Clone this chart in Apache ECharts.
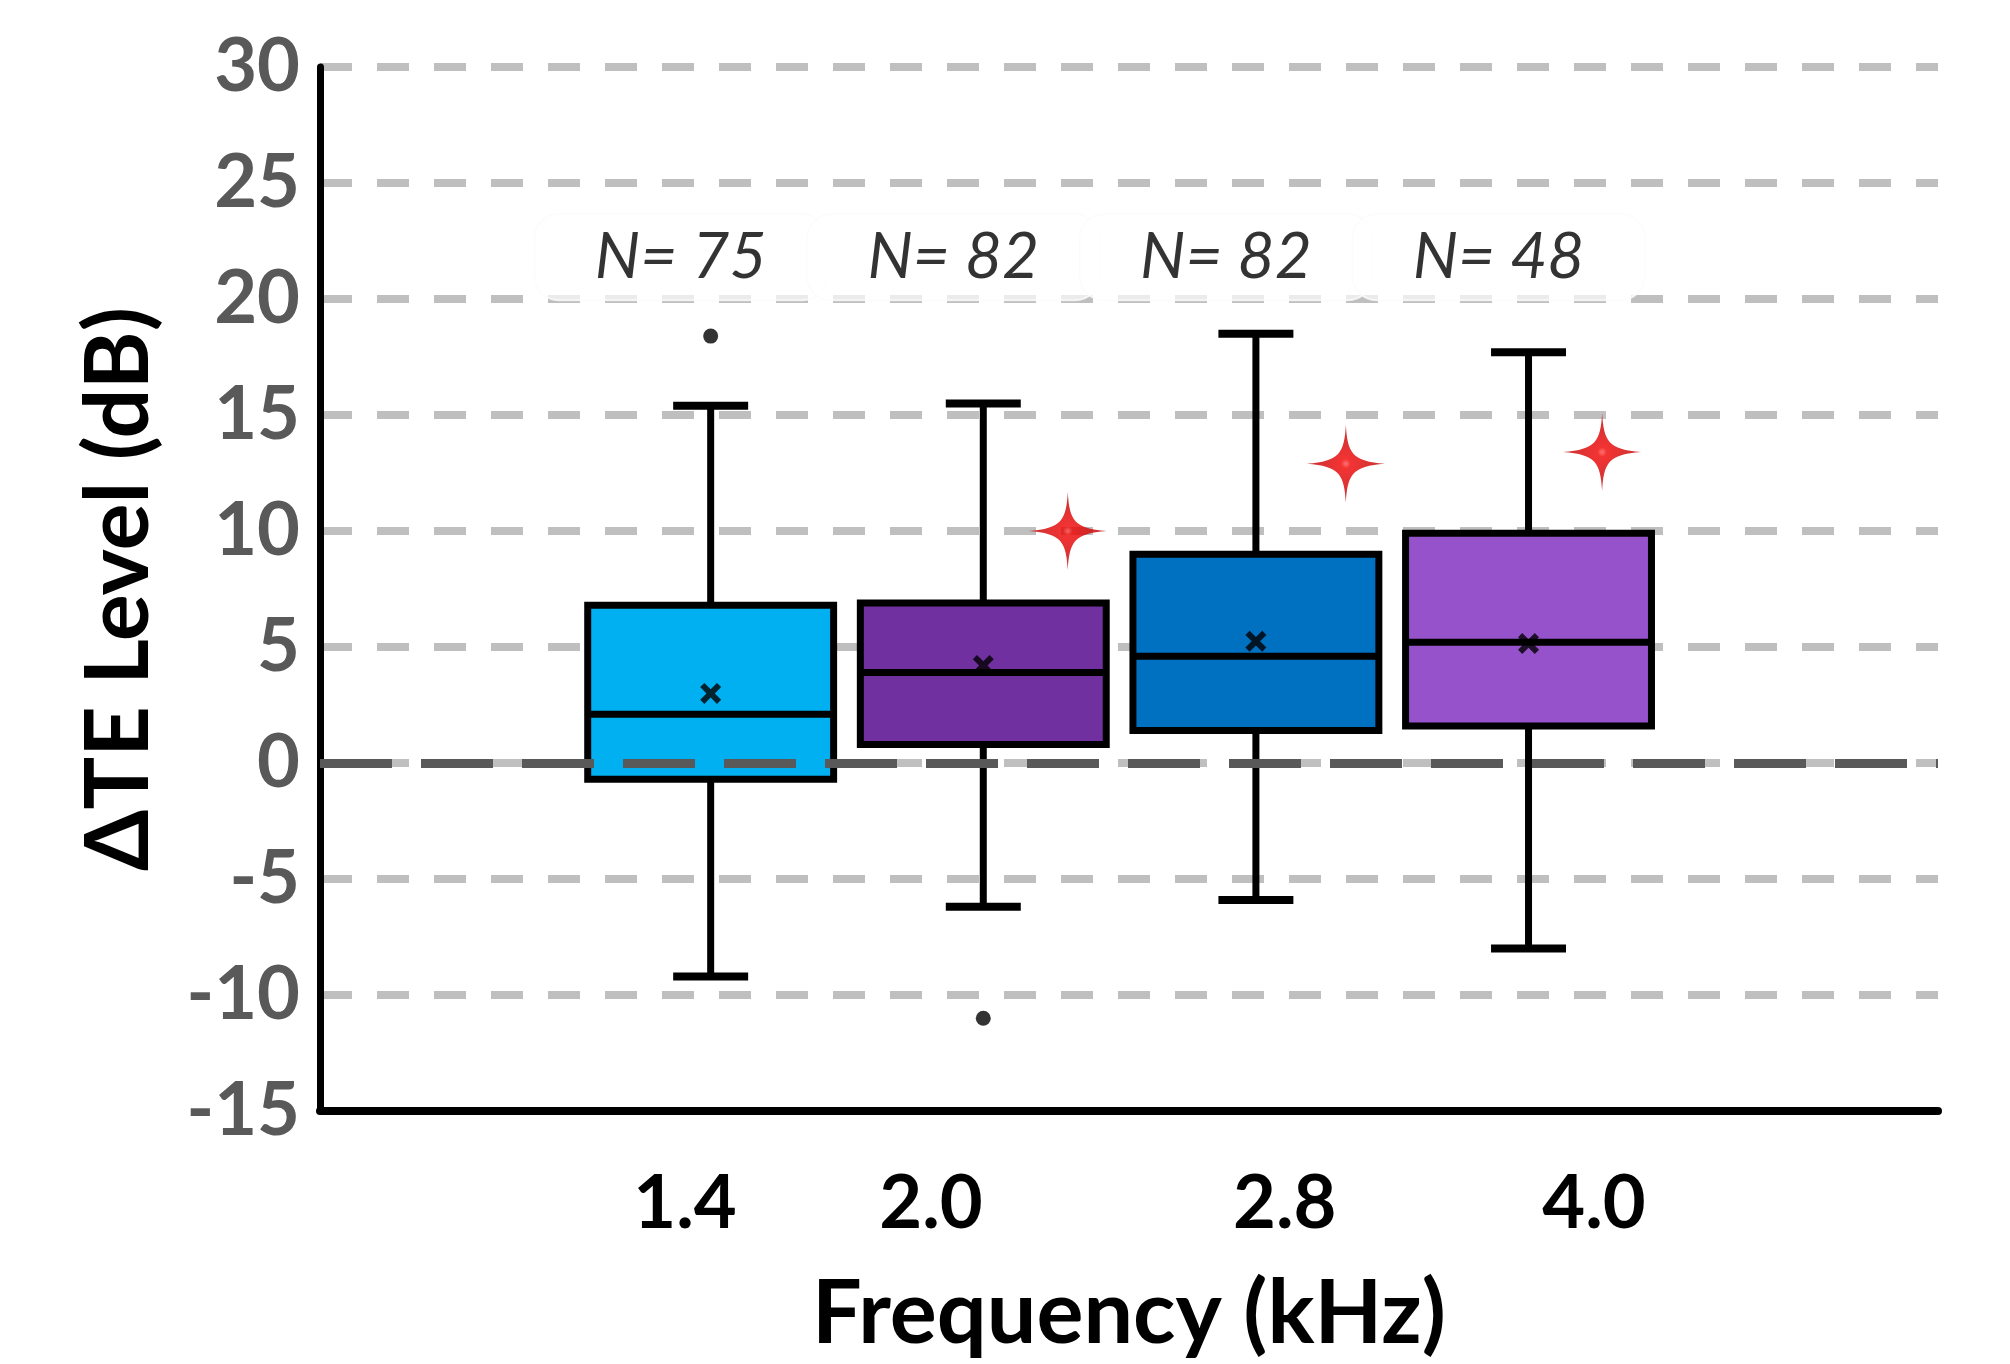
<!DOCTYPE html>
<html>
<head>
<meta charset="utf-8">
<script src="https://cdn.jsdelivr.net/npm/echarts@6/dist/echarts.min.js"></script>
<style>
  html, body { margin: 0; padding: 0; background: #fff; }
  #chart { width: 2010px; height: 1364px; }
</style>
</head>
<body>
<div id="chart"></div>
<script>
// frequencies (kHz), one box each, drawn at index 1..4
const freqs = ['1.4', '2.0', '2.8', '4.0']
const boxIndex = [1, 2, 3, 4]
// box stats: [min, q1, median, q3, max]
const boxStats = [
  [-9.2, -0.7, 2.1, 6.8, 15.4],
  [-6.2, 0.8, 3.9, 6.9, 15.5],
  [-5.9, 1.4, 4.6, 9.0, 18.5],
  [-8.0, 1.6, 5.2, 9.9, 17.7]
]
const means = [3.0, 4.2, 5.25, 5.15]
const nCounts = [75, 82, 82, 48]
// outliers [index, value]
const outliers = [[1, 18.4], [2, -11.0]]
// red stars [x, value]
const stars = [[2.31, 10.0], [3.33, 12.9], [4.27, 13.4]]
const yTicks = [-15, -10, -5, 0, 5, 10, 15, 20, 25, 30]

const boxColors = ['#00b0f0', '#7030a0', '#0070c0', '#9652ca']
// where the original put its tick labels (not under the boxes)
const freqLabelPos = [0.906, 1.808, 3.106, 4.24]
const nLabelShift = -0.11
const nLabelY = 21.8

const font = 'Lato, "Open Sans", sans-serif'
const starPath = 'path://M50,0 C52,36 58,47 100,50 C58,53 52,64 50,100 C48,64 42,53 0,50 C42,47 48,36 50,0 Z'
const crossPath = 'path://M2,0 L5,3 L8,0 L10,2 L7,5 L10,8 L8,10 L5,7 L2,10 L0,8 L3,5 L0,2 Z'

var myChart = echarts.init(document.getElementById('chart'))

const boxData = boxIndex.map((x, i) => [x].concat(boxStats[i]))

const option = {
  animation: false,
  grid: { left: 320, right: 72, top: 67, bottom: 253 },
  xAxis: {
    type: 'value',
    min: -0.433,
    max: 5.502,
    axisLine: { onZero: false, lineStyle: { color: '#000', width: 8 } },
    axisTick: { show: false },
    splitLine: { show: false },
    axisLabel: {
      customValues: freqLabelPos,
      formatter: (v) => {
        let i = freqLabelPos.findIndex(p => Math.abs(p - v) < 1e-6)
        return i >= 0 ? freqs[i] : ''
      },
      margin: 56,
      fontSize: 74,
      fontWeight: 'bold',
      color: '#000',
      fontFamily: font
    },
    name: 'Frequency (kHz)',
    nameLocation: 'middle',
    nameGap: 160,
    nameTextStyle: { fontSize: 88, fontWeight: 'bold', color: '#000', fontFamily: font }
  },
  yAxis: {
    type: 'value',
    min: -15,
    max: 30,
    interval: 5,
    axisLine: { show: true, onZero: false, lineStyle: { color: '#000', width: 7 } },
    axisTick: { show: false },
    splitLine: {
      lineStyle: { color: '#bfbfbf', width: 8, type: [32, 25] }
    },
    axisLabel: {
      margin: 20,
      fontSize: 74,
      fontWeight: 'bold',
      color: '#595959',
      fontFamily: font,
      formatter: (v) => yTicks.includes(v) ? String(v) : ''
    },
    name: 'ΔTE Level (dB)',
    nameLocation: 'middle',
    nameGap: 156,
    nameRotate: 90,
    nameTextStyle: { fontSize: 88, fontWeight: 'bold', color: '#000', fontFamily: font }
  },
  series: [
    {
      type: 'custom',
      z: 2,
      data: boxData,
      renderItem: (params, api) => {
        const x = api.value(0)
        const pMin = api.coord([x, api.value(1)])
        const pQ1 = api.coord([x, api.value(2)])
        const pMed = api.coord([x, api.value(3)])
        const pQ3 = api.coord([x, api.value(4)])
        const pMax = api.coord([x, api.value(5)])
        const boxW = api.size([0.902, 0])[0]
        const capW = api.size([0.275, 0])[0]
        const stroke = { stroke: '#000', lineWidth: 7 }
        return {
          type: 'group',
          children: [
            { type: 'line', shape: { x1: pMax[0], y1: pMax[1], x2: pQ3[0], y2: pQ3[1] }, style: stroke },
            { type: 'line', shape: { x1: pMin[0], y1: pMin[1], x2: pQ1[0], y2: pQ1[1] }, style: stroke },
            { type: 'line', shape: { x1: pMax[0] - capW / 2, y1: pMax[1], x2: pMax[0] + capW / 2, y2: pMax[1] }, style: { stroke: '#000', lineWidth: 8 } },
            { type: 'line', shape: { x1: pMin[0] - capW / 2, y1: pMin[1], x2: pMin[0] + capW / 2, y2: pMin[1] }, style: { stroke: '#000', lineWidth: 8 } },
            {
              type: 'rect',
              shape: { x: pQ3[0] - boxW / 2, y: pQ3[1], width: boxW, height: pQ1[1] - pQ3[1] },
              style: { fill: boxColors[params.dataIndex], stroke: '#000', lineWidth: 7 }
            },
            { type: 'line', shape: { x1: pMed[0] - boxW / 2, y1: pMed[1], x2: pMed[0] + boxW / 2, y2: pMed[1] }, style: stroke }
          ]
        }
      }
    },
    {
      // zero reference line, drawn over the boxes
      type: 'scatter',
      z: 4,
      data: [],
      markLine: {
        silent: true,
        symbol: 'none',
        label: { show: false },
        lineStyle: { color: '#595959', width: 9, type: [72, 29] },
        data: [{ yAxis: 0 }]
      }
    },
    {
      name: 'mean',
      type: 'scatter',
      z: 5,
      symbol: crossPath,
      symbolSize: 21,
      itemStyle: { color: '#000' },
      data: boxIndex.map((x, i) => [x, means[i]])
    },
    {
      name: 'outliers',
      type: 'scatter',
      z: 5,
      symbol: 'circle',
      symbolSize: 15,
      itemStyle: { color: '#000' },
      data: outliers
    },
    {
      name: 'stars',
      type: 'scatter',
      z: 5,
      symbol: starPath,
      symbolSize: 78,
      itemStyle: {
        color: {
          type: 'radial', x: 0.5, y: 0.5, r: 0.5,
          colorStops: [
            { offset: 0, color: '#ff5050' },
            { offset: 0.12, color: '#f00000' },
            { offset: 1, color: '#b80000' }
          ]
        }
      },
      data: stars
    },
    {
      name: 'N',
      type: 'scatter',
      z: 6,
      symbolSize: 0,
      data: boxIndex.map((x, i) => [x + nLabelShift, nLabelY, nCounts[i]]),
      label: {
        show: true,
        position: 'inside',
        formatter: (p) => 'N= ' + p.value[2],
        fontSize: 64,
        fontStyle: 'italic',
        color: '#000',
        fontFamily: font,
        backgroundColor: 'rgba(255,255,255,0.85)',
        borderColor: '#fafafa',
        borderWidth: 1,
        borderRadius: 24,
        padding: [14, 60, 8, 60]
      }
    }
  ]
}

myChart.setOption(option)
</script>
</body>
</html>
